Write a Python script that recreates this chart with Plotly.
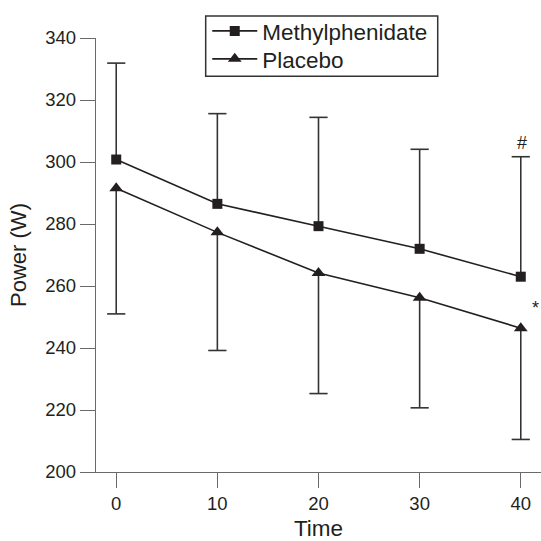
import plotly.graph_objects as go

time = [0, 10, 20, 30, 40]
meth_mean = [300.8, 286.5, 279.3, 272.0, 263.0]
meth_upper = [331.9, 315.6, 314.4, 304.1, 301.7]
plac_mean = [291.5, 277.3, 264.2, 256.2, 246.4]
plac_lower = [251.0, 239.2, 225.3, 220.7, 210.5]

INK = "#231f20"
AX = "#6a6a6a"
BAR = "#333333"
FONT = "Liberation Sans, Arial, Helvetica, sans-serif"

meth_err = [u - m for u, m in zip(meth_upper, meth_mean)]
plac_err = [m - l for m, l in zip(plac_mean, plac_lower)]

fig = go.Figure()

# error bar stems (no caps)
fig.add_trace(go.Scatter(
    x=time, y=meth_mean, mode="markers", marker=dict(size=1, opacity=0),
    error_y=dict(type="data", symmetric=False, array=meth_err,
                 arrayminus=[0] * len(time), width=0, thickness=1.6, color=BAR),
    showlegend=False, hoverinfo="skip"))
fig.add_trace(go.Scatter(
    x=time, y=plac_mean, mode="markers", marker=dict(size=1, opacity=0),
    error_y=dict(type="data", symmetric=False, array=[0] * len(time),
                 arrayminus=plac_err, width=0, thickness=1.6, color=BAR),
    showlegend=False, hoverinfo="skip"))
# caps
fig.add_trace(go.Scatter(
    x=time + time, y=meth_upper + plac_lower, mode="markers",
    marker=dict(symbol="line-ew-open", size=13, color=BAR, line=dict(width=1.6, color=BAR)),
    showlegend=False, hoverinfo="skip"))

fig.add_trace(go.Scatter(
    x=time, y=meth_mean, mode="lines+markers", name="Methylphenidate",
    line=dict(color=INK, width=1.6), legend="legend",
    marker=dict(symbol="square", size=10, color=INK)))
fig.add_trace(go.Scatter(
    x=time, y=plac_mean, mode="lines+markers", name="Placebo",
    line=dict(color=INK, width=1.6), legend="legend2",
    marker=dict(symbol="triangle-up", size=12, color=INK)))

fig.add_annotation(x=40.1, y=306.0, xref="x", yref="y", text="#", showarrow=False,
                   font=dict(size=18, color=INK, family=FONT))
fig.add_annotation(x=41.5, y=253.0, xref="x", yref="y", text="*", showarrow=False,
                   font=dict(size=18, color=INK, family=FONT))

# legend frame
fig.add_shape(type="rect", xref="paper", yref="paper",
              x0=0.2465, x1=0.7679, y0=0.9119, y1=1.0506,
              line=dict(color=BAR, width=1.5), fillcolor="white", layer="above")

leg_common = dict(xanchor="left", yanchor="middle", borderwidth=0,
                  bgcolor="rgba(0,0,0,0)", font=dict(size=22.5, color=INK),
                  itemwidth=45)

fig.update_layout(
    width=541, height=541,
    margin=dict(l=96, r=0, t=38, b=69, autoexpand=False),
    paper_bgcolor="white", plot_bgcolor="white",
    font=dict(family=FONT, color=INK, size=18.5),
    showlegend=True,
    legend=dict(x=0.25, y=1.0155, **leg_common),
    legend2=dict(x=0.25, y=0.9511, **leg_common),
    xaxis=dict(range=[-2, 42], tickvals=time, ticks="outside", ticklen=15,
               tickwidth=1.3, tickcolor=AX, showline=True, linecolor=AX, linewidth=1.3,
               showgrid=False, zeroline=False, tickfont=dict(size=18.5), automargin=False,
               title=dict(text="Time", font=dict(size=22.5), standoff=13)),
    yaxis=dict(range=[200, 340], tickvals=[200, 220, 240, 260, 280, 300, 320, 340],
               ticks="outside", ticklen=15, tickwidth=1.3, tickcolor=AX,
               showline=True, linecolor=AX, linewidth=1.3, automargin=False,
               showgrid=False, zeroline=False, tickfont=dict(size=18.5),
               title=dict(text="Power (W)", font=dict(size=22), standoff=12)),
)

fig.write_html("out.html", config={"displayModeBar": False},
               post_script="document.body.style.margin='0';document.body.style.padding='0';")
